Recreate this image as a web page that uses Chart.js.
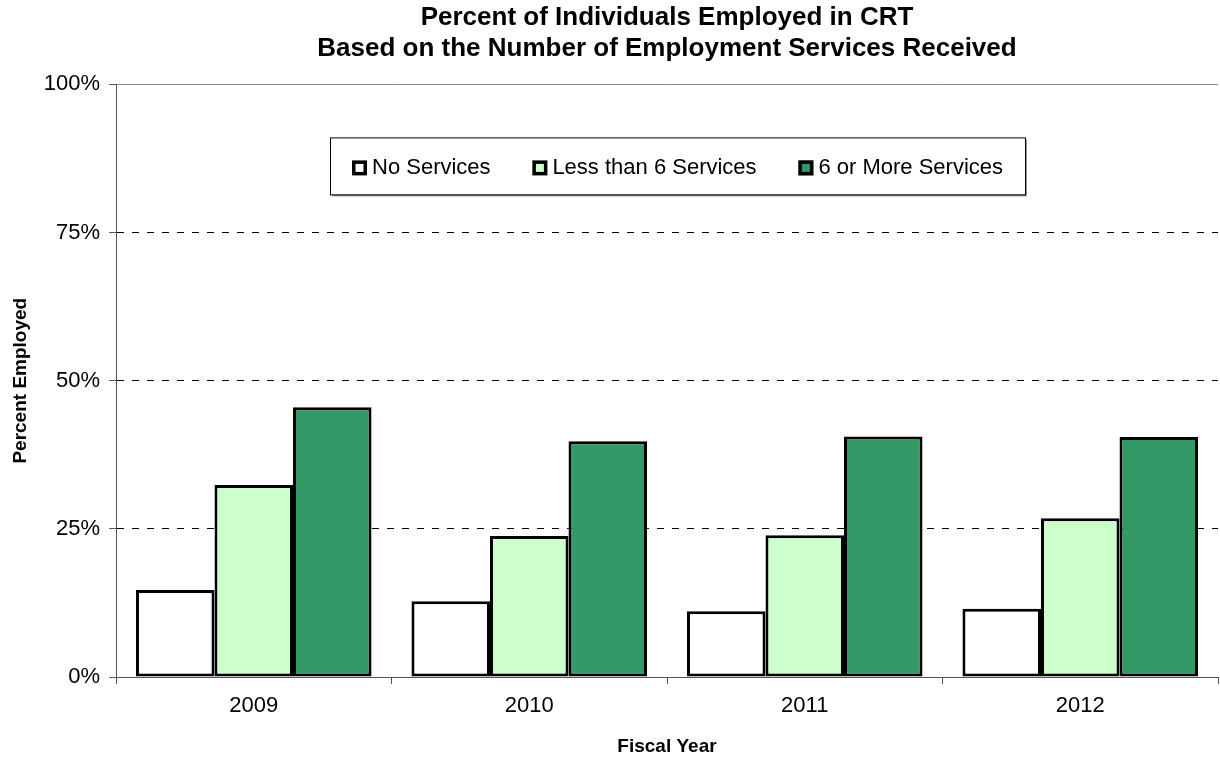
<!DOCTYPE html>
<html>
<head>
<meta charset="utf-8">
<title>Percent Employed in CRT</title>
<script src="https://cdn.jsdelivr.net/npm/chart.js@4.4.1/dist/chart.umd.min.js"></script>
<style>
  html, body { margin: 0; padding: 0; background: #fff; }
  #wrap { width: 1220px; height: 758px; }
</style>
</head>
<body>
<div id="wrap"><canvas id="grafico" width="1220" height="758"></canvas></div>
<script>
const years = ['2009', '2010', '2011', '2012'];
const noServices = [14.7, 12.8, 11.1, 11.5];
const lessThanSix = [32.4, 23.8, 23.9, 26.8];
const sixOrMore = [45.5, 39.8, 40.6, 40.5];
const yTicks = [0, 25, 50, 75, 100];

const FONT = '"Liberation Sans", Arial, sans-serif';

// legend drawn inside the plot, in a framed box
const legendBox = {
    id: 'legendBox',
    afterDraw(chart) {
        const ctx = chart.ctx;
        const area = chart.chartArea;
        const left = area.left + 214;
        const top = area.top + 53;
        const w = 695;
        const h = 57;
        ctx.save();
        ctx.font = '22px ' + FONT;
        ctx.textBaseline = 'middle';
        const sets = chart.data.datasets;
        const widths = sets.map(ds => 20 + ctx.measureText(ds.label).width);
        const total = widths.reduce((a, b) => a + b, 0);
        const gap = (w - 44 - total) / (sets.length - 1);
        const cy = top + h / 2 + 2;

        // frame with a light shadow
        ctx.fillStyle = '#999';
        ctx.fillRect(left + 2, top + 2, w, h);
        ctx.fillStyle = '#fff';
        ctx.fillRect(left, top, w, h);
        ctx.strokeStyle = '#000';
        ctx.lineWidth = 1;
        ctx.strokeRect(left + 0.5, top + 0.5, w, h);

        let x = left + 22;
        sets.forEach(function (ds, i) {
            ctx.fillStyle = ds.backgroundColor;
            ctx.fillRect(x, cy - 7.5, 15, 15);
            ctx.lineWidth = 3.5;
            ctx.strokeStyle = '#000';
            ctx.strokeRect(x + 1.75, cy - 5.75, 11.5, 11.5);
            ctx.fillStyle = '#000';
            ctx.fillText(ds.label, x + 20, cy);
            x += widths[i] + gap;
        });
        ctx.restore();
    }
};

const ctx = document.getElementById('grafico').getContext('2d');
const grafico = new Chart(ctx, {
    type: 'bar',
    data: {
        labels: years,
        datasets: [
            { label: 'No Services', data: noServices, backgroundColor: '#ffffff' },
            { label: 'Less than 6 Services', data: lessThanSix, backgroundColor: '#ccffcc' },
            { label: '6 or More Services', data: sixOrMore, backgroundColor: '#339966' }
        ]
    },
    options: {
        responsive: false,
        animation: false,
        layout: { padding: { left: 8, right: 2, top: 0, bottom: 0 } },
        datasets: {
            bar: {
                borderColor: '#000',
                borderWidth: 3,
                borderSkipped: false,
                categoryPercentage: 0.855,
                barPercentage: 1.0
            }
        },
        plugins: {
            legend: { display: false },
            tooltip: { enabled: false },
            title: {
                display: true,
                fullSize: false,
                text: ['Percent of Individuals Employed in CRT', 'Based on the Number of Employment Services Received'],
                color: '#000',
                font: { family: FONT, size: 26, weight: 'bold', lineHeight: 1.2 },
                padding: { top: 2, bottom: 20 }
            }
        },
        scales: {
            x: {
                afterFit(scale) {
                    scale.height = 81;
                },
                grid: {
                    offset: true,
                    drawOnChartArea: false,
                    drawTicks: true,
                    tickLength: 7,
                    tickColor: '#555',
                    tickWidth: 1
                },
                border: { color: '#555', width: 1 },
                ticks: {
                    color: '#000',
                    padding: 9,
                    font: { family: FONT, size: 22 }
                },
                title: {
                    display: true,
                    text: 'Fiscal Year',
                    color: '#000',
                    font: { family: FONT, size: 19, weight: 'bold' },
                    padding: { top: 13, bottom: 0 }
                }
            },
            y: {
                min: 0,
                max: 100,
                afterBuildTicks(scale) {
                    scale.ticks = yTicks.map(v => ({ value: v }));
                },
                afterFit(scale) {
                    scale.width = 108;
                },
                grid: {
                    color: c => (c.tick && c.tick.value === 100 ? '#888' : '#000'),
                    lineWidth: 1,
                    tickLength: 7,
                    tickColor: '#555',
                    tickWidth: 1
                },
                border: {
                    color: '#555',
                    width: 1,
                    dash: c => (c.tick && c.tick.value > 0 && c.tick.value < 100 ? [7, 8] : [])
                },
                ticks: {
                    color: '#000',
                    padding: 9,
                    font: { family: FONT, size: 22 },
                    callback: v => v + '%'
                },
                title: {
                    display: true,
                    text: 'Percent Employed',
                    color: '#000',
                    font: { family: FONT, size: 19, weight: 'bold' },
                    padding: { top: 1, bottom: 0 }
                }
            }
        }
    },
    plugins: [legendBox]
});
</script>
</body>
</html>
